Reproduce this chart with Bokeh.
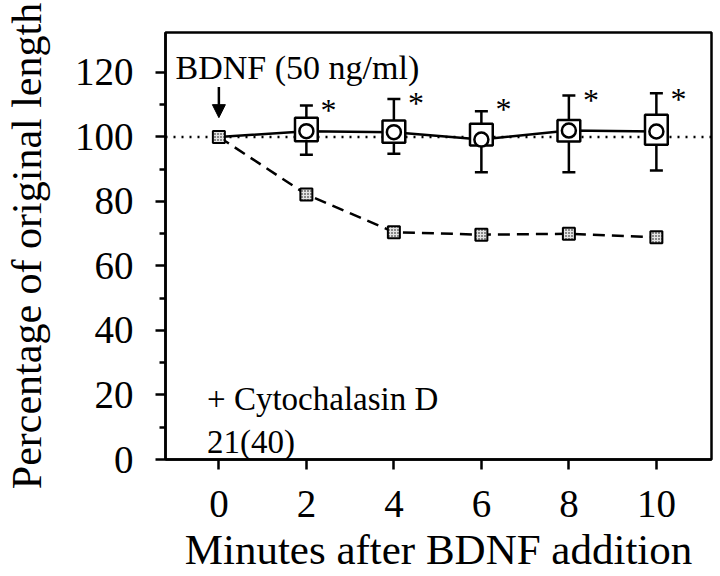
from bokeh.plotting import figure
from bokeh.models import Span, Arrow, NormalHead, Label, FixedTicker, ColumnDataSource
from bokeh.core.properties import value
from bokeh.embed import file_html
from bokeh.resources import INLINE

# ---- data ----
minutes = [0, 2, 4, 6, 8, 10]
bdnf_mean = [100.0, 101.8, 101.5, 99.2, 102.0, 101.7]
box_x = [2, 4, 6, 8, 10]
box_mean = [101.8, 101.5, 99.2, 102.0, 101.7]
box_low = [98.7, 98.2, 97.4, 98.6, 97.6]
box_high = [106.0, 105.1, 104.1, 105.3, 106.9]
whisker_low = [94.5, 94.8, 89.1, 89.1, 89.6]
whisker_high = [109.8, 111.8, 108.0, 112.9, 113.6]
star_y = [110.4, 112.6, 110.7, 113.5, 113.8]
cyto_mean = [100.0, 82.2, 70.5, 69.7, 70.0, 68.9]
x_ticks = [0, 2, 4, 6, 8, 10]
y_ticks = [0, 20, 40, 60, 80, 100, 120]
y_minor = [10, 30, 50, 70, 90, 110]
arrow_from = 115.5
arrow_to = 106.0
baseline_pct = 100

FONT = "Liberation Serif"

p = figure(width=720, height=576, x_range=(-1.22, 11.26), y_range=(0, 132.4),
           output_backend="svg", toolbar_location=None,
           min_border_left=157, min_border_right=9, min_border_top=32, min_border_bottom=117)
p.background_fill_color = "white"
p.border_fill_color = "white"
p.xgrid.visible = False
p.ygrid.visible = False
p.outline_line_color = "black"
p.outline_line_width = 2.5
p.outline_line_alpha = 1.0

# axes
p.xaxis.ticker = FixedTicker(ticks=x_ticks)
p.yaxis.ticker = FixedTicker(ticks=y_ticks, minor_ticks=y_minor)
for ax in (p.xaxis[0], p.yaxis[0]):
    ax.axis_line_color = "black"
    ax.axis_line_width = 2.5
    ax.major_tick_line_color = "black"
    ax.major_tick_line_width = 2.5
    ax.major_tick_in = 0
    ax.major_tick_out = 10
    ax.minor_tick_line_color = "black"
    ax.minor_tick_line_width = 2.5
    ax.minor_tick_in = 0
    ax.minor_tick_out = 6
    ax.major_label_text_font = FONT
    ax.major_label_text_font_size = "39px"
    ax.major_label_text_color = "black"
    ax.axis_label_text_font = FONT
    ax.axis_label_text_font_style = "normal"
    ax.axis_label_text_color = "black"

p.xaxis.axis_label_text_font_size = "43px"
p.yaxis.axis_label_text_font_size = "42px"
p.xaxis.axis_label = "Minutes after BDNF addition"
p.yaxis.axis_label = "Percentage of original length"
p.xaxis.major_label_standoff = 21
p.xaxis.axis_label_standoff = 6
p.yaxis.major_label_standoff = 22
p.yaxis.axis_label_standoff = 22

# reference dotted line at 100 %
p.add_layout(Span(location=baseline_pct, dimension="width", line_color="black",
                  line_width=2.5, line_dash="2 6", level="underlay"))

# cytochalasin dashed line
p.line(minutes, cyto_mean, line_color="black", line_width=2.5, line_dash="12 7")
# BDNF solid line
p.line(minutes, bdnf_mean, line_color="black", line_width=2.5)

src = ColumnDataSource(dict(x=box_x, mean=box_mean, lo=box_low, hi=box_high,
                            wlo=whisker_low, whi=whisker_high, star=star_y))
p.segment(x0="x", y0="wlo", x1="x", y1="whi", source=src, line_color="black", line_width=2.5)
p.scatter(x="x", y="wlo", source=src, marker="dash", size=13, line_color="black", line_width=2.5)
p.scatter(x="x", y="whi", source=src, marker="dash", size=13, line_color="black", line_width=2.5)
p.vbar(x="x", width=0.52, bottom="lo", top="hi", source=src, fill_color="white",
       line_color="black", line_width=2.5)
p.scatter(x="x", y="mean", source=src, marker="circle", size=14, fill_color="white",
          line_color="black", line_width=2.5)

# stippled squares (cytochalasin series)
p.scatter(minutes, cyto_mean, marker="square", size=12, fill_color="#e4e4e4",
          line_color="black", line_width=2, hatch_pattern="dot", hatch_color="black",
          hatch_scale=3, hatch_weight=1)

# significance asterisks
p.text(x="x", y="star", source=src, text=value("*"), x_offset=22, y_offset=7,
       text_align="center", text_baseline="middle", text_font=value(FONT),
       text_font_size="32px", text_color="black")

# arrow marking BDNF addition
p.add_layout(Arrow(end=NormalHead(size=13, fill_color="black", line_color="black"),
                   x_start=0, y_start=arrow_from, x_end=0, y_end=arrow_to,
                   line_color="black", line_width=2.5))

# annotations
p.add_layout(Label(x=-0.99, y=121.6, text="BDNF (50 ng/ml)", text_font=FONT,
                   text_font_size="34px", text_color="black", text_baseline="alphabetic"))
p.add_layout(Label(x=-0.27, y=18.8, text="+ Cytochalasin D", text_font=FONT,
                   text_font_size="33px", text_color="black", text_baseline="alphabetic"))
p.add_layout(Label(x=-0.27, y=5.4, text="21(40)", text_font=FONT,
                   text_font_size="33px", text_color="black", text_baseline="alphabetic"))

open("out.html", "w").write(file_html(p, INLINE))
